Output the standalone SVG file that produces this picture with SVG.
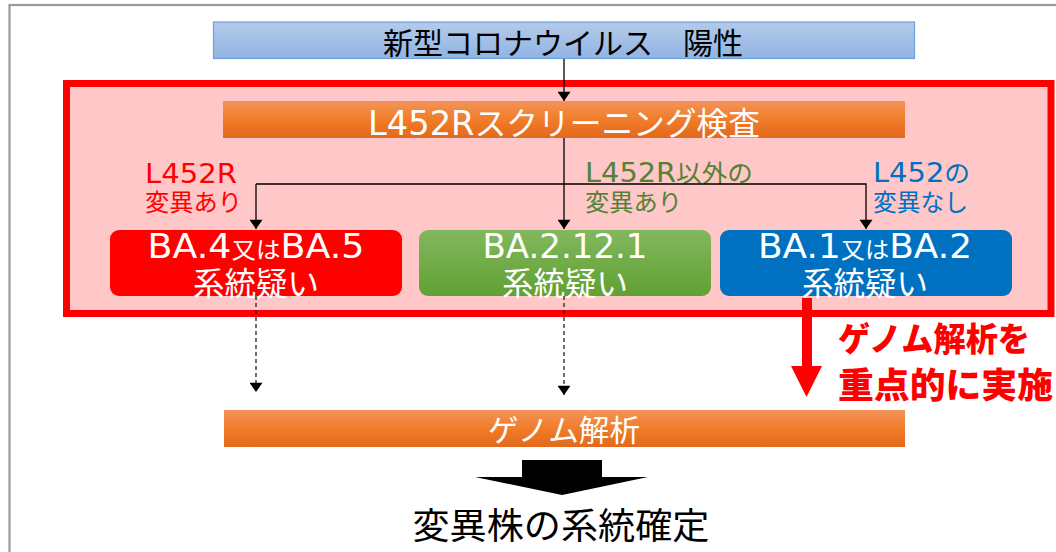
<svg xmlns="http://www.w3.org/2000/svg" width="1056" height="552" viewBox="0 0 1056 552">
<style>
.cjk{font-family:"Noto Sans CJK JP","Noto Sans",sans-serif}
.mix{font-family:"DejaVu Sans","Noto Sans CJK JP",sans-serif}
.w{fill:#ffffff}
.conn{stroke:#000;stroke-width:1.3;fill:none}
.dash{stroke:#222;stroke-width:1.3;fill:none;stroke-dasharray:4 3}
</style>
<defs>
<linearGradient id="gBlue" x1="0" y1="0" x2="0" y2="1"><stop offset="0" stop-color="#b4cbea"/><stop offset="1" stop-color="#91b4e2"/></linearGradient>
<linearGradient id="gOrange" x1="0" y1="0" x2="0" y2="1"><stop offset="0" stop-color="#f39459"/><stop offset="0.5" stop-color="#f17c2a"/><stop offset="1" stop-color="#e2691a"/></linearGradient>
<linearGradient id="gGreen" x1="0" y1="0" x2="0" y2="1"><stop offset="0" stop-color="#82b85e"/><stop offset="1" stop-color="#61a032"/></linearGradient>
<marker id="ah" viewBox="0 0 10 14" refX="10" refY="7" markerWidth="14" markerHeight="13" markerUnits="userSpaceOnUse" orient="auto"><path d="M0,0 L10,7 L0,14 Z" fill="#000"/></marker>
</defs>
<rect width="1056" height="552" fill="#ffffff"/>
<rect x="9.5" y="5" width="1080" height="580" fill="none" stroke="#999" stroke-width="2.2"/>

<g id="screening-frame">
<rect x="66.5" y="83.5" width="984.5" height="230" fill="#ffc7c7" stroke="#ff0000" stroke-width="7"/>
</g>

<g id="positive">
<rect x="213.5" y="22" width="701" height="36.5" fill="url(#gBlue)" stroke="#6d9fd8" stroke-width="1.2"/>
<text x="563" y="54" class="cjk" font-size="30" text-anchor="middle" textLength="360" lengthAdjust="spacingAndGlyphs" fill="#000">新型コロナウイルス　陽性</text>
</g>

<g id="screening">
<rect x="223" y="101" width="682" height="37" fill="url(#gOrange)"/>
<text x="564" y="135" class="mix w" font-size="32" text-anchor="middle" textLength="392" lengthAdjust="spacingAndGlyphs"><tspan font-size="34">L452R</tspan>スクリーニング検査</text>
</g>

<g id="label-red" fill="#ff0000">
<text x="145" y="183" class="mix" font-size="27" textLength="92" lengthAdjust="spacingAndGlyphs">L452R</text>
<text x="145" y="211" class="cjk" font-size="24" textLength="97" lengthAdjust="spacingAndGlyphs">変異あり</text>
</g>
<g id="label-green" fill="#548235">
<text x="585" y="182" class="mix" font-size="24" textLength="168" lengthAdjust="spacingAndGlyphs"><tspan font-size="27">L452R</tspan>以外の</text>
<text x="585" y="211" class="cjk" font-size="24" textLength="97" lengthAdjust="spacingAndGlyphs">変異あり</text>
</g>
<g id="label-blue" fill="#0070c0">
<text x="873" y="182" class="mix" font-size="24" textLength="97" lengthAdjust="spacingAndGlyphs"><tspan font-size="27">L452</tspan>の</text>
<text x="873" y="211" class="cjk" font-size="24" textLength="95" lengthAdjust="spacingAndGlyphs">変異なし</text>
</g>

<g id="ba45">
<rect x="110" y="230" width="292" height="66" rx="9" fill="#ff0000"/>
<text x="256" y="258" class="mix w" font-size="34" text-anchor="middle" textLength="217" lengthAdjust="spacingAndGlyphs">BA.4<tspan font-size="23">又は</tspan>BA.5</text>
<text x="256" y="295" class="cjk w" font-size="32" text-anchor="middle" textLength="126" lengthAdjust="spacingAndGlyphs">系統疑い</text>
</g>
<g id="ba2121">
<rect x="419" y="230" width="292" height="66" rx="9" fill="url(#gGreen)"/>
<text x="565" y="258" class="mix w" font-size="34" text-anchor="middle" textLength="165" lengthAdjust="spacingAndGlyphs">BA.2.12.1</text>
<text x="565" y="295" class="cjk w" font-size="32" text-anchor="middle" textLength="126" lengthAdjust="spacingAndGlyphs">系統疑い</text>
</g>
<g id="ba12">
<rect x="720" y="230" width="292" height="66" rx="9" fill="#0070c0"/>
<text x="865" y="258" class="mix w" font-size="34" text-anchor="middle" textLength="214" lengthAdjust="spacingAndGlyphs">BA.1<tspan font-size="23">又は</tspan>BA.2</text>
<text x="865" y="295" class="cjk w" font-size="32" text-anchor="middle" textLength="126" lengthAdjust="spacingAndGlyphs">系統疑い</text>
</g>

<g id="genome">
<rect x="224" y="410" width="681" height="37" fill="url(#gOrange)"/>
<text x="564" y="441" class="cjk w" font-size="30" text-anchor="middle" textLength="152" lengthAdjust="spacingAndGlyphs">ゲノム解析</text>
</g>

<g id="result">
<text x="561" y="539" class="cjk" font-size="36" text-anchor="middle" textLength="297" lengthAdjust="spacingAndGlyphs" fill="#000">変異株の系統確定</text>
</g>

<g id="focus-note" fill="#ff0000">
<text x="838" y="351" class="cjk" font-size="33" font-weight="900" textLength="192" lengthAdjust="spacingAndGlyphs">ゲノム解析を</text>
<text x="838" y="398" class="cjk" font-size="35" font-weight="900" textLength="215" lengthAdjust="spacingAndGlyphs">重点的に実施</text>
</g>

<g id="connectors">
<line x1="564" y1="59" x2="564" y2="101" class="conn" marker-end="url(#ah)"/>
<line x1="564" y1="138" x2="564" y2="229" class="conn" marker-end="url(#ah)"/>
<polyline points="256,184 866,184 866,229" class="conn" marker-end="url(#ah)"/>
<line x1="256" y1="184" x2="256" y2="229" class="conn" marker-end="url(#ah)"/>
<line x1="256" y1="296" x2="256" y2="392" class="dash" marker-end="url(#ah)"/>
<line x1="564" y1="296" x2="564" y2="395" class="dash" marker-end="url(#ah)"/>
<polygon points="802,298 812,298 812,366 822,366 806.5,397 791,366 802,366" fill="#ff0000"/>
<polygon points="522,460 602,460 602,477 648,477 562,495 475,477 522,477" fill="#000"/>
</g>
</svg>
